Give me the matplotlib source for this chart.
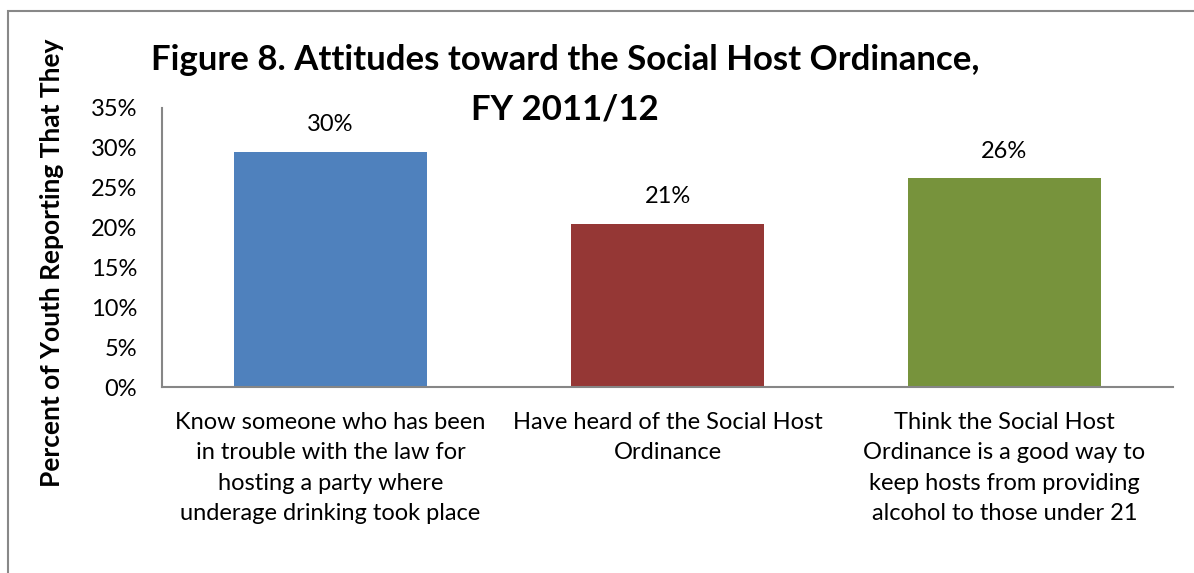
import matplotlib
matplotlib.use("Agg")
import matplotlib.pyplot as plt
from matplotlib.patches import Rectangle
from matplotlib.ticker import PercentFormatter

categories = [
    "Know someone who has been\nin trouble with the law for\nhosting a party where\nunderage drinking took place",
    "Have heard of the Social Host\nOrdinance",
    "Think the Social Host\nOrdinance is a good way to\nkeep hosts from providing\nalcohol to those under 21",
]
values = [29.5, 20.5, 26.2]
value_labels = ["30%", "21%", "26%"]
colors = ["#4F81BD", "#953735", "#77933C"]
yticks = [0, 5, 10, 15, 20, 25, 30, 35]

plt.rcParams['font.family'] = ['Lato', 'DejaVu Sans']

W, H = 1194, 573
fig = plt.figure(figsize=(W / 100, H / 100), dpi=100)
ax = fig.add_axes([162 / W, 1 - 387 / H, (1173 - 162) / W, (387 - 108) / H])

x = list(range(len(categories)))
bars = ax.bar(x, values, width=0.573, color=colors, zorder=2)
ax.set_xlim(-0.5, len(categories) - 0.5)
ax.set_ylim(0, 35)
ax.set_yticks(yticks)
ax.yaxis.set_major_formatter(PercentFormatter(decimals=0))
ax.set_xticks(x)
ax.set_xticklabels(categories, fontsize=17.5, linespacing=1.55, va='top')
ax.tick_params(axis='both', length=0, labelsize=17, colors='black')
ax.tick_params(axis='x', pad=18)
ax.tick_params(axis='y', pad=18)

for s in ['top', 'right']:
    ax.spines[s].set_visible(False)
for s in ['left', 'bottom']:
    ax.spines[s].set_color('#868686')
    ax.spines[s].set_linewidth(1.5)

for b, lab in zip(bars, value_labels):
    ax.annotate(lab, (b.get_x() + b.get_width() / 2, b.get_height()),
                xytext=(0, 27), textcoords='offset pixels',
                ha='center', va='center', fontsize=17)

fig.text(565 / W, 1 - 60 / H, "Figure 8. Attitudes toward the Social Host Ordinance,",
         ha='center', va='center', fontsize=25, fontweight='bold')
fig.text(565 / W, 1 - 110 / H, "FY 2011/12",
         ha='center', va='center', fontsize=25, fontweight='bold')

fig.text(52 / W, 1 - 263 / H, "Percent of Youth Reporting That They",
         rotation=90, ha='center', va='center', fontsize=19, fontweight='bold')

fig.patches.append(Rectangle((8 / W, -0.2), 2, 1.2 - 11 / H, transform=fig.transFigure,
                             fill=False, edgecolor='#888888', linewidth=1.5))

fig.savefig("out.png", dpi=100)
